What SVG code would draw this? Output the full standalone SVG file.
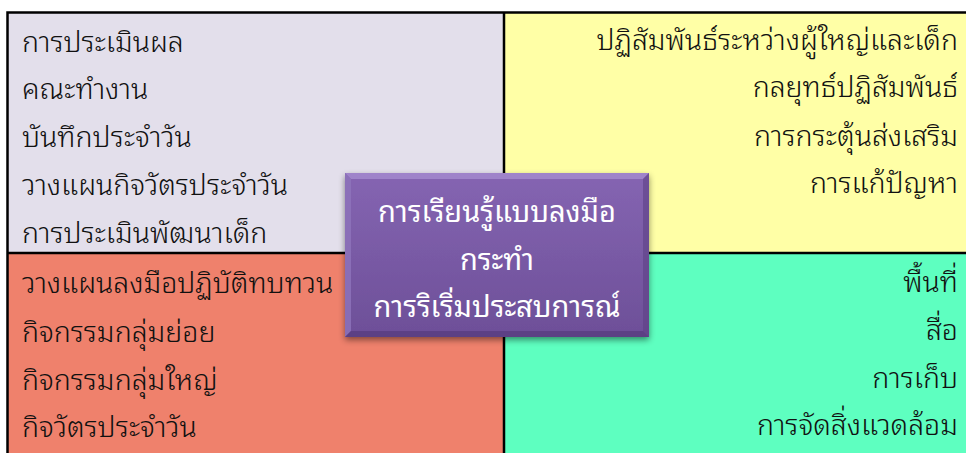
<svg xmlns="http://www.w3.org/2000/svg" width="966" height="453" viewBox="0 0 966 453">
<style>
.t{font-family:"Noto Sans Thai Looped","Noto Sans Thai","Noto Sans",sans-serif;font-size:28.5px;font-weight:300;fill:#111}
.r{text-anchor:end}
.c{font-family:"Noto Sans Thai Looped","Noto Sans Thai","Noto Sans",sans-serif;font-size:29px;fill:#fff;text-anchor:middle}
</style>
<defs>
<linearGradient id="pg" x1="0" y1="0" x2="0" y2="1">
<stop offset="0" stop-color="#8565b2"/>
<stop offset="1" stop-color="#6d4f98"/>
</linearGradient>
<filter id="sh" x="-10%" y="-10%" width="120%" height="130%">
<feDropShadow dx="0" dy="3" stdDeviation="3" flood-color="#000" flood-opacity="0.45"/>
</filter>
</defs>
<rect width="966" height="453" fill="#fff"/>
<g id="q-tl"><rect x="8" y="13" width="496" height="240" fill="#e3dfeb"/>
<text class="t" x="22" y="52">การประเมินผล</text>
<text class="t" x="22" y="99">คณะทำงาน</text>
<text class="t" x="22" y="147">บันทึกประจำวัน</text>
<text class="t" x="22" y="195">วางแผนกิจวัตรประจำวัน</text>
<text class="t" x="22" y="243">การประเมินพัฒนาเด็ก</text></g>
<g id="q-tr"><rect x="504" y="13" width="462" height="240" fill="#ffffa6"/>
<text class="t r" x="958" y="50">ปฏิสัมพันธ์ระหว่างผู้ใหญ่และเด็ก</text>
<text class="t r" x="958" y="97">กลยุทธ์ปฏิสัมพันธ์</text>
<text class="t r" x="958" y="146">การกระตุ้นส่งเสริม</text>
<text class="t r" x="958" y="193">การแก้ปัญหา</text></g>
<g id="q-bl"><rect x="8" y="253" width="496" height="200" fill="#ef816c"/>
<text class="t" x="22" y="293">วางแผนลงมือปฏิบัติทบทวน</text>
<text class="t" x="22" y="342">กิจกรรมกลุ่มย่อย</text>
<text class="t" x="22" y="390">กิจกรรมกลุ่มใหญ่</text>
<text class="t" x="22" y="437">กิจวัตรประจำวัน</text></g>
<g id="q-br"><rect x="504" y="253" width="462" height="200" fill="#5effc0"/>
<text class="t r" x="958" y="292">พื้นที่</text>
<text class="t r" x="958" y="340">สื่อ</text>
<text class="t r" x="958" y="388">การเก็บ</text>
<text class="t r" x="958" y="435">การจัดสิ่งแวดล้อม</text></g>
<g id="lines" stroke="#000" stroke-width="2.5" fill="none">
<path d="M7.5 453V12.5H966"/>
<path d="M504 12.5V453"/>
<path d="M7.5 253H966"/>
</g>
<g id="center">
<rect x="345" y="173" width="304" height="164" fill="url(#pg)" filter="url(#sh)"/>
<path d="M345 173h304l-6 6h-292z" fill="#a58bd0" opacity="0.8"/>
<path d="M345 173v164l6-6v-152z" fill="#8f74bb" opacity="0.8"/>
<path d="M649 173v164l-6-6v-152z" fill="#5d4185" opacity="0.6"/>
<path d="M345 337h304l-6-6h-292z" fill="#553a7c" opacity="0.7"/>
<text class="c" x="497" y="222">การเรียนรู้แบบลงมือ</text>
<text class="c" x="497" y="270">กระทำ</text>
<text class="c" x="497" y="317">การริเริ่มประสบการณ์</text>
</g>
</svg>
